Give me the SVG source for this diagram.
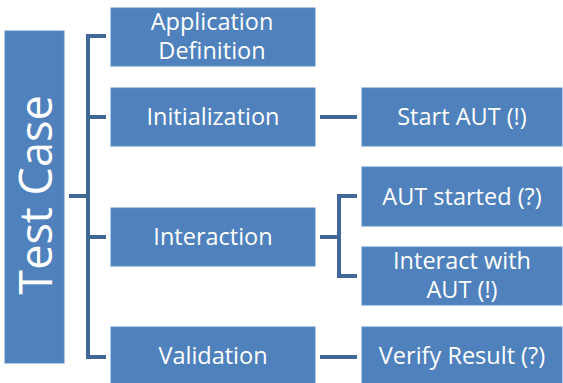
<svg xmlns="http://www.w3.org/2000/svg" width="563" height="383" viewBox="0 0 563 383">
  <style>
    .box { fill: #4F81BD; stroke: #5B8BC6; stroke-width: 1; }
    .lbl { fill: #FFFFFF; font-family: "Open Sans", "Noto Sans", sans-serif; font-size: 23.5px; text-anchor: middle; }
    .conn { fill: none; stroke: #3F6897; stroke-width: 4; stroke-linejoin: miter; }
  </style>
  <rect width="563" height="383" fill="#FFFFFF"/>

  <!-- connectors -->
  <g id="connectors">
    <path class="conn" d="M69,196 H88 M106,36 H88 V357 H106 M88,117 H106 M88,237 H106"/>
    <path class="conn" d="M320,117 H357"/>
    <path class="conn" d="M320,237 H339 M357,196 H339 V276 H357"/>
    <path class="conn" d="M320,357 H357"/>
  </g>

  <g id="test-case">
    <rect class="box" x="5" y="31" width="59" height="332"/>
    <text class="lbl" transform="translate(52,195) rotate(-90)" style="font-size:45px">Test Case</text>
  </g>

  <g id="app-def">
    <rect class="box" x="111" y="8" width="204" height="58"/>
    <text class="lbl" x="212" y="30">Application</text>
    <text class="lbl" x="212" y="59">Definition</text>
  </g>

  <g id="init">
    <rect class="box" x="111" y="88" width="204" height="58"/>
    <text class="lbl" x="213" y="125">Initialization</text>
  </g>

  <g id="interaction">
    <rect class="box" x="111" y="208" width="204" height="58"/>
    <text class="lbl" x="213" y="245">Interaction</text>
  </g>

  <g id="validation">
    <rect class="box" x="111" y="327" width="204" height="58"/>
    <text class="lbl" x="213" y="364">Validation</text>
  </g>

  <g id="start-aut">
    <rect class="box" x="362" y="88" width="200" height="58"/>
    <text class="lbl" x="462" y="125">Start AUT (!)</text>
  </g>

  <g id="aut-started">
    <rect class="box" x="362" y="167" width="200" height="59"/>
    <text class="lbl" x="462" y="205">AUT started (?)</text>
  </g>

  <g id="interact-aut">
    <rect class="box" x="362" y="247" width="200" height="58"/>
    <text class="lbl" x="462" y="269">Interact with</text>
    <text class="lbl" x="462" y="298">AUT (!)</text>
  </g>

  <g id="verify">
    <rect class="box" x="362" y="327" width="200" height="58"/>
    <text class="lbl" x="462" y="364">Verify Result (?)</text>
  </g>
</svg>
